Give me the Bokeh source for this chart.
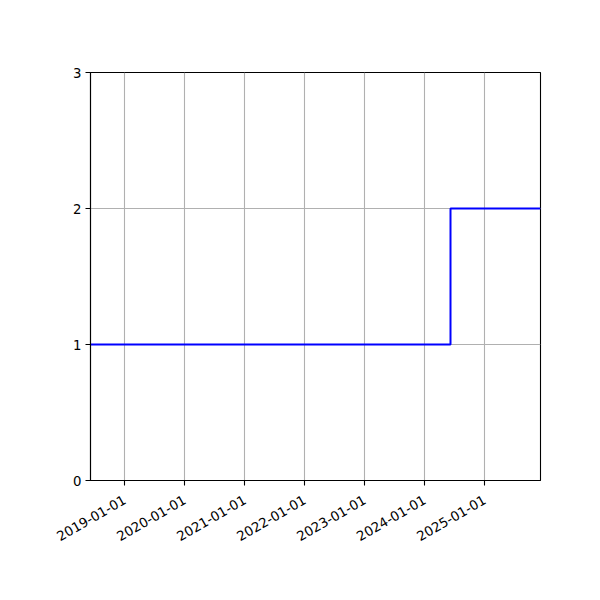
import math
import pandas as pd
from bokeh.plotting import figure
from bokeh.models import FixedTicker, DatetimeTickFormatter, Range1d
from bokeh.embed import file_html
from bokeh.resources import INLINE

# Data
dates = ["2018-06-07", "2024-06-07", "2025-12-07"]
values = [1, 2, 2]
x_tick_dates = ["2019-01-01", "2020-01-01", "2021-01-01", "2022-01-01",
                "2023-01-01", "2024-01-01", "2025-01-01"]
y_ticks = [0, 1, 2, 3]

x = pd.to_datetime(dates)
xt = pd.to_datetime(x_tick_dates)

p = figure(width=592, height=592, x_axis_type="datetime",
           output_backend="svg", toolbar_location=None,
           x_range=Range1d(x[0], x[-1]), y_range=Range1d(0, 3),
           min_border_left=90, min_border_right=52,
           min_border_top=72, min_border_bottom=112)
p.background_fill_color = "white"
p.border_fill_color = "white"
p.outline_line_color = "black"
p.outline_line_width = 1.1

p.step(x, values, mode="after", line_color="blue", line_width=2)

fmt = "%Y-%m-%d"
p.xaxis.ticker = FixedTicker(ticks=[d.value // 10**6 for d in xt])
p.xaxis.formatter = DatetimeTickFormatter(
    microseconds=fmt, milliseconds=fmt, seconds=fmt, minsec=fmt, minutes=fmt,
    hourmin=fmt, hours=fmt, days=fmt, months=fmt, years=fmt)
p.xaxis.major_label_orientation = math.pi / 6
p.yaxis.ticker = FixedTicker(ticks=y_ticks)

for ax in (p.xaxis[0], p.yaxis[0]):
    ax.axis_line_color = "black"
    ax.axis_line_width = 1.1
    ax.major_tick_line_color = "black"
    ax.major_tick_line_width = 1.1
    ax.major_tick_out = 5
    ax.major_tick_in = 0
    ax.minor_tick_line_color = None
    ax.major_label_text_font = "DejaVu Sans"
    ax.major_label_text_font_size = "13.3px"
    ax.major_label_text_color = "black"
p.yaxis.major_label_standoff = 4
p.xaxis.major_label_standoff = 13

p.grid.grid_line_color = "#b0b0b0"
p.grid.grid_line_width = 1.1

open("out.html", "w").write(file_html(p, INLINE))
